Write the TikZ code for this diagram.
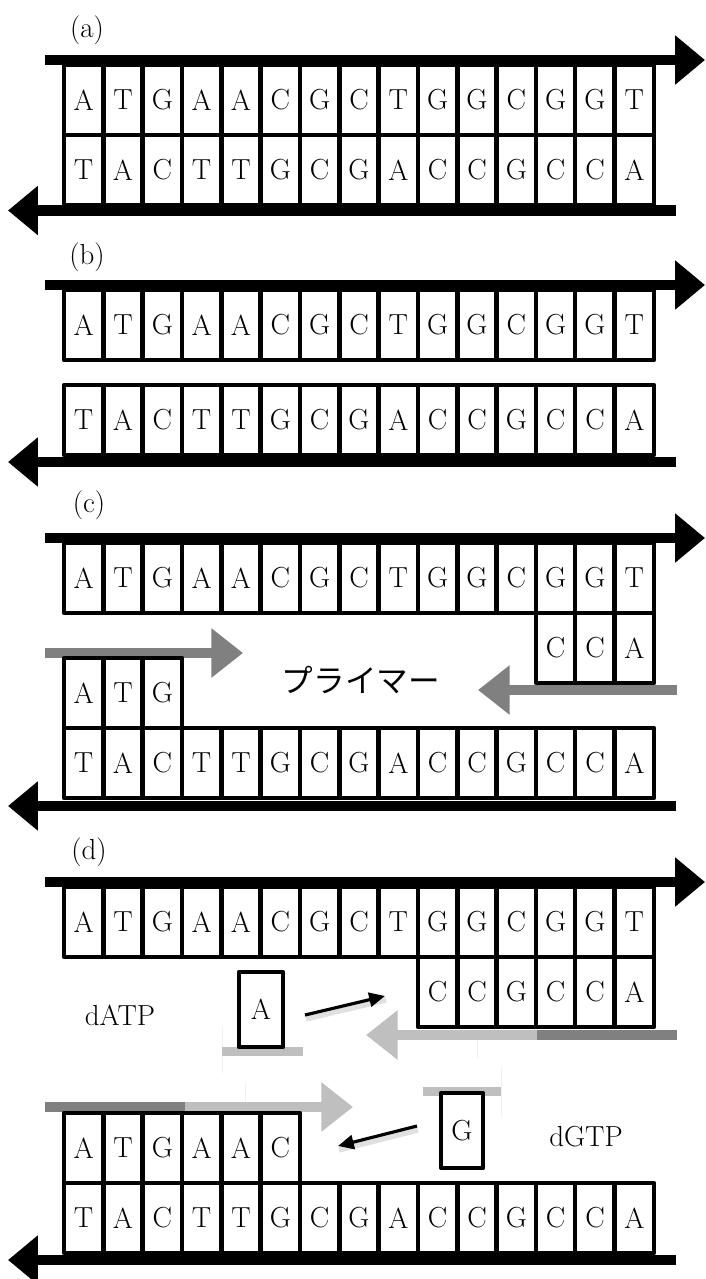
\documentclass[tikz,border=0pt]{standalone}
\usepackage{fontspec}
\newfontfamily\jpfont{Noto Sans CJK JP}
\usetikzlibrary{arrows.meta}

% one row of bases, boxes side by side
\newcommand\baserow[4]{%
  \foreach \nt [count=\i from #3] in {#4}
    \node[base] (#1-\i) at ({83.67+39.33*\i},#2) {\nt};}

\begin{document}
\begin{tikzpicture}[x=0.02cm,y=-0.02cm,line join=round,
    base/.style={draw,line width=2.5pt,fill=white,minimum width=0.7866cm,minimum height=1.4cm,inner sep=0pt,outer sep=0pt,font=\fontsize{16.5}{18}\selectfont},
    lbl/.style={font=\fontsize{16.5}{18}\selectfont},
    strand/.style={line width=6pt,-{Triangle[length=17pt,width=27pt]}},
    primer/.style={line width=5.7pt,-{Triangle[length=18pt,width=27pt]}},
    dntp/.style={base,minimum width=0.88cm,minimum height=1.5cm},
    move/.style={line width=1.8pt,-{Triangle[length=9pt,width=8pt]}}]
\useasboundingbox (0,0) rectangle (706,1279);

% (a) double strand
\node[lbl] (lab-a) at (87,30) {(a)};
\baserow{a-top}{100}{0}{A,T,G,A,A,C,G,C,T,G,G,C,G,G,T}
\baserow{a-bot}{170}{0}{T,A,C,T,T,G,C,G,A,C,C,G,C,C,A}
\draw[strand] (45,60) -- (705,60);
\draw[strand] (676,210.5) -- (8,210.5);

% (b) separated
\node[lbl] (lab-b) at (87,257) {(b)};
\baserow{b-top}{325}{0}{A,T,G,A,A,C,G,C,T,G,G,C,G,G,T}
\baserow{b-bot}{420}{0}{T,A,C,T,T,G,C,G,A,C,C,G,C,C,A}
\draw[strand] (45,285) -- (705,285);
\draw[strand] (676,462) -- (8,462);

% (c) primers
\node[lbl] (lab-c) at (89,505) {(c)};
\draw[primer,black!50] (45,653) -- (243,653);
\draw[primer,black!50] (677,690) -- (478,690);
\baserow{c-top}{578}{0}{A,T,G,A,A,C,G,C,T,G,G,C,G,G,T}
\baserow{c-pr}{648}{12}{C,C,A}
\baserow{c-pl}{693}{0}{A,T,G}
\baserow{c-bot}{763}{0}{T,A,C,T,T,G,C,G,A,C,C,G,C,C,A}
\draw[strand] (45,538) -- (705,538);
\draw[strand] (676,806) -- (8,806);
\node[font=\jpfont\fontsize{18}{20}\selectfont] (primer-txt) at (361,680) {プライマー};

% (d) extension
\node[lbl] (lab-d) at (89,852) {(d)};
%% faint guide lines
\draw[gray!12,line width=0.4pt] (222,1027) -- (222,1073);
\draw[gray!12,line width=0.4pt] (245,1083) -- (245,1130);
\draw[gray!12,line width=0.4pt] (477,1010) -- (477,1058);
\draw[gray!12,line width=0.4pt] (501,1067) -- (501,1117);
\draw[line width=5.7pt,black!50] (45,1107) -- (185,1107);
\draw[primer,black!25] (185,1107) -- (353,1107);
\draw[line width=5.7pt,black!50] (677,1035) -- (537,1035);
\draw[primer,black!25] (537,1035) -- (366,1035);
\baserow{d-top}{922}{0}{A,T,G,A,A,C,G,C,T,G,G,C,G,G,T}
\baserow{d-pr}{992}{9}{C,C,G,C,C,A}
\baserow{d-pl}{1148}{0}{A,T,G,A,A,C}
\baserow{d-bot}{1218}{0}{T,A,C,T,T,G,C,G,A,C,C,G,C,C,A}
\draw[strand] (45,882) -- (705,882);
\draw[strand] (676,1260) -- (8,1260);

%% free nucleotides
\draw[line width=5pt,black!25] (222,1051.5) -- (303,1051.5);
\node[dntp] (dA) at (261,1009.5) {A};
\node[lbl] (datp) at (120,1015) {dATP};
\draw[line width=5pt,black!25] (423,1091.5) -- (501,1091.5);
\node[dntp,minimum width=0.84cm] (dG) at (462,1130.5) {G};
\node[lbl] (dgtp) at (586,1137) {dGTP};

\coordinate (a-from) at (305,1015);
\coordinate (a-to) at (385,996);
\coordinate (g-from) at (417,1126);
\coordinate (g-to) at (338,1146);
\draw[line width=3pt,black!12] ([shift={(1,4)}]a-from) -- ([shift={(1,4)}]a-to);
\draw[line width=3pt,black!12] ([shift={(1,4)}]g-from) -- ([shift={(1,4)}]g-to);
\draw[move] (a-from) -- (a-to);
\draw[move] (g-from) -- (g-to);
\end{tikzpicture}
\end{document}
